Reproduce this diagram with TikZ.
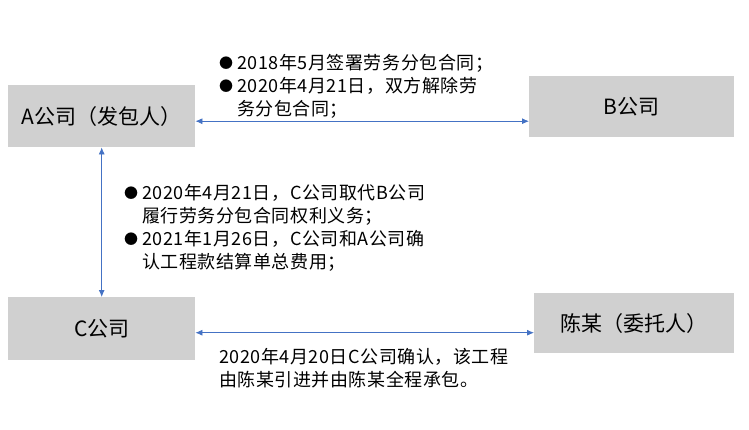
\documentclass[tikz,border=0pt]{standalone}
\usepackage{fontspec}
\setmainfont{Noto Sans CJK SC}
\newfontfamily\notefont[LetterSpace=3]{Noto Sans CJK SC}
\usepackage{xcolor}
\usetikzlibrary{arrows.meta}
\definecolor{boxgray}{RGB}{208,208,208}
\definecolor{linkblue}{RGB}{68,114,196}
\newcommand{\bul}{\raisebox{0.5pt}{\fontsize{14}{14}\selectfont●}\hspace{4pt}}

\begin{document}
\begin{tikzpicture}[x=1pt,y=-1pt]
	 \tikzstyle{party}=[rectangle,fill=boxgray,inner sep=0pt,anchor=north west,font=\fontsize{21}{24}\selectfont]
	 \tikzstyle{note}=[inner sep=0pt,anchor=north west,align=left,font=\notefont\fontsize{18}{23}\selectfont]
	 \tikzstyle{link}=[draw,thick,linkblue,{Latex[length=7pt,width=6pt]}-{Latex[length=7pt,width=6pt]}]

	 \useasboundingbox (0,0) rectangle (749,429);

	 \node[party,minimum width=187pt,minimum height=62pt] (a) at (8,85) {A公司（发包人）};
	 \node[party,minimum width=205pt,minimum height=61pt] (b) at (529,76) {B公司};
	 \node[party,minimum width=187pt,minimum height=63pt] (c) at (8,297) {C公司};
	 \node[party,minimum width=200pt,minimum height=60pt] (chen) at (534,293) {陈某（委托人）};

	 \node[note] (n1) at (219,54) {\bul 2018年5月签署劳务分包合同；\\\bul 2020年4月21日，双方解除劳\\\phantom{\bul}务分包合同；};
	 \node[note] (n2) at (124,184) {\bul 2020年4月21日，C公司取代B公司\\\phantom{\bul}履行劳务分包合同权利义务；\\\bul 2021年1月26日，C公司和A公司确\\\phantom{\bul}认工程款结算单总费用；};
	 \node[note] (n3) at (219,348) {2020年4月20日C公司确认，该工程\\由陈某引进并由陈某全程承包。};

	 \draw[link] ([yshift=-5pt]a.east) -- ([yshift=-5pt]a.east -| b.west);
	 \draw[link] (a.south) -- (c.north);
	 \draw[link] ([yshift=-4pt]c.east) -- ([yshift=-4pt]c.east -| chen.west);
\end{tikzpicture}
\end{document}
